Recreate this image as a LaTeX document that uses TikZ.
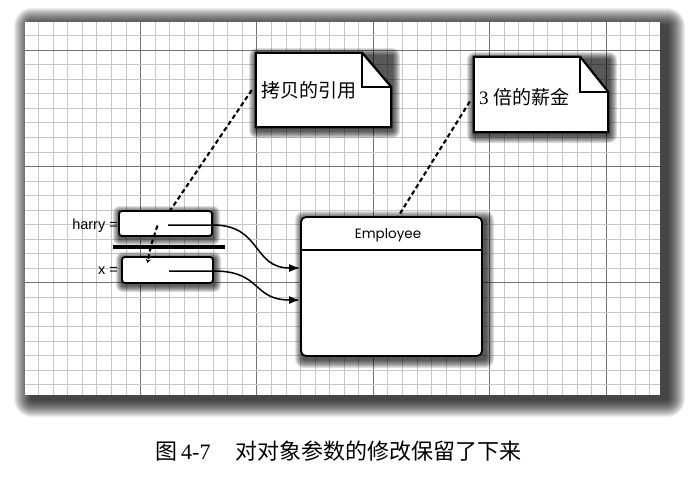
\documentclass[tikz,border=0pt]{standalone}
\usepackage{fontspec}
\setmainfont{Liberation Serif}
\newfontfamily\cjkf{Noto Sans CJK SC}
\newfontfamily\arialf{Liberation Sans}
\newfontfamily\geof{Poppins}
\usetikzlibrary{arrows.meta}
\newcommand\fuzzysh[8]{%
  \foreach \i in {1,...,#5}{%
    \fill[black,opacity=#8,rounded corners=\i pt] ({#1-\i+#6},{#2-\i+#7}) rectangle ({#3+\i+#6},{#4+\i+#7});}}
\begin{document}
\begin{tikzpicture}[x=1pt,y=-1pt,
  minorline/.style={draw=black!22,line width=0.7pt},
  majorline/.style={draw=black!55,line width=0.8pt},
  notebox/.style={draw=none,inner sep=0pt},
  noteline/.style={line width=2.2pt,fill=white,line join=miter},
  refbox/.style={draw,fill=white,line width=1.8pt,rounded corners=3pt,inner sep=0pt},
  classbox/.style={draw,fill=white,line width=1.8pt,rounded corners=5pt,inner sep=0pt},
  dashln/.style={line width=2.1pt,dash pattern=on 4.5pt off 3pt},
  refarrow/.style={line width=1.5pt,-{Latex[length=11pt,width=8pt]}},
  cjktext/.style={font=\cjkf\fontsize{19}{19}\selectfont,inner sep=0pt},
  lbl/.style={font=\arialf\fontsize{14.5}{14.5}\selectfont,inner sep=0pt}]
\useasboundingbox (0,0) rectangle (699,483);
\fill[white] (0,0) rectangle (699,483);
% panel shadow
\fuzzysh{25}{22}{660}{395}{18}{7}{4}{0.065}
\fill[white] (25,22) rectangle (660,395);
% grid
\foreach \k in {1,...,43}{%
  \pgfmathsetmacro\xx{24+\k*14.55}
  \pgfmathtruncatemacro\m{mod(\k,8)}
  \ifnum\m=0 \draw[majorline] (\xx,22) -- (\xx,395);
  \else \draw[minorline] (\xx,22) -- (\xx,395); \fi}
\foreach \k in {-1,...,23}{%
  \pgfmathsetmacro\yy{50+\k*14.55}
  \pgfmathtruncatemacro\m{mod(\k+8,8)}
  \ifnum\m=0 \draw[majorline] (25,\yy) -- (660,\yy);
  \else \draw[minorline] (25,\yy) -- (660,\yy); \fi}
% note 1
\fuzzysh{256}{53}{391}{127}{8}{1}{3}{0.12}
\node[notebox,minimum width=135pt,minimum height=74pt] (n1) at (323.5,90) {};
\filldraw[noteline] (n1.north west) -- ([xshift=-29pt]n1.north east) -- ([yshift=-34pt]n1.north east) -- (n1.south east) -- (n1.south west) -- cycle;
\draw[line width=2.2pt] ([xshift=-29pt]n1.north east) -- ([xshift=-29pt,yshift=-34pt]n1.north east) -- ([yshift=-34pt]n1.north east);
\node[cjktext,anchor=west] (n1t) at (261,90) {拷贝的引用};
% note 2
\fuzzysh{474}{57}{608}{132}{8}{1}{3}{0.12}
\node[notebox,minimum width=134pt,minimum height=75pt] (n2) at (541,94.5) {};
\filldraw[noteline] (n2.north west) -- ([xshift=-28pt]n2.north east) -- ([yshift=-35pt]n2.north east) -- (n2.south east) -- (n2.south west) -- cycle;
\draw[line width=2.2pt] ([xshift=-28pt]n2.north east) -- ([xshift=-28pt,yshift=-35pt]n2.north east) -- ([yshift=-35pt]n2.north east);
\node[cjktext,anchor=west] (n2t) at (479,97) {{\rmfamily\fontsize{19}{19}\selectfont 3}\hspace{5pt}倍的薪金};
% placeholders for anchors
\node[inner sep=0pt,minimum width=93pt,minimum height=25pt] (hbp) at (165.5,223.5) {};
\node[inner sep=0pt,minimum width=181pt,minimum height=139pt] (empp) at (391.5,286.5) {};
% dashed lines behind boxes
\draw[dashln] ([xshift=-4pt]n1.west) -- ([xshift=4.5pt]hbp.north);
\draw[dashln] ([xshift=-4pt,yshift=-7pt]n2.west) -- ([xshift=6.5pt]empp.north);
% harry / x boxes
\fuzzysh{119}{211}{212}{236}{7}{1}{2}{0.13}
\fuzzysh{122}{257}{213}{283}{7}{1}{2}{0.13}
\node[refbox,minimum width=93pt,minimum height=25pt] (hb) at (165.5,223.5) {};
\node[refbox,minimum width=91pt,minimum height=26pt] (xb) at (167.5,270) {};
\node[lbl,anchor=east] (hl) at (118,226) {harry =};
\node[lbl,anchor=east] (xl) at (118,271) {x =};
\coordinate (bar1) at (113,247);
\coordinate (bar2) at (225,247);
\draw[line width=4.5pt] (bar1) -- (bar2);
% Employee box
\fuzzysh{301}{217}{482}{356}{9}{3}{3}{0.11}
\node[classbox,minimum width=181pt,minimum height=139pt] (emp) at (391.5,286.5) {};
\draw[line width=1.5pt] ([yshift=-34pt]emp.north west) -- ([yshift=-34pt]emp.north east);
\node[font=\geof\fontsize{13.5}{13.5}\selectfont,inner sep=0pt] (empt) at (388,235) {Employee};
% references
\coordinate (hs) at ([xshift=2.5pt,yshift=-1.5pt]hb.center);
\coordinate (xs) at ([xshift=1.5pt,yshift=-1pt]xb.center);
\draw[refarrow] (hs) -- ([yshift=-1.5pt]hb.east) .. controls (262,225) and (252,268) .. ([yshift=18.5pt]emp.west);
\draw[refarrow] (xs) -- ([yshift=-1pt]xb.east) .. controls (262,271) and (252,300) .. ([yshift=-13.5pt]emp.west);
\draw[dashln,-{Stealth[length=4pt,width=5pt]}] ([xshift=-8pt,yshift=-2pt]hb.center) .. controls (151,245) .. ([xshift=-20pt,yshift=7pt]xb.center);
% caption
\node[inner sep=0pt,anchor=west] (cap) at (155,451) {{\cjkf\fontsize{22}{22}\selectfont 图}\hspace{4pt}{\fontsize{22}{22}\selectfont 4-7}\hspace{25pt}{\cjkf\fontsize{22}{22}\selectfont 对对象参数的修改保留了下来}};
\end{tikzpicture}
\end{document}
